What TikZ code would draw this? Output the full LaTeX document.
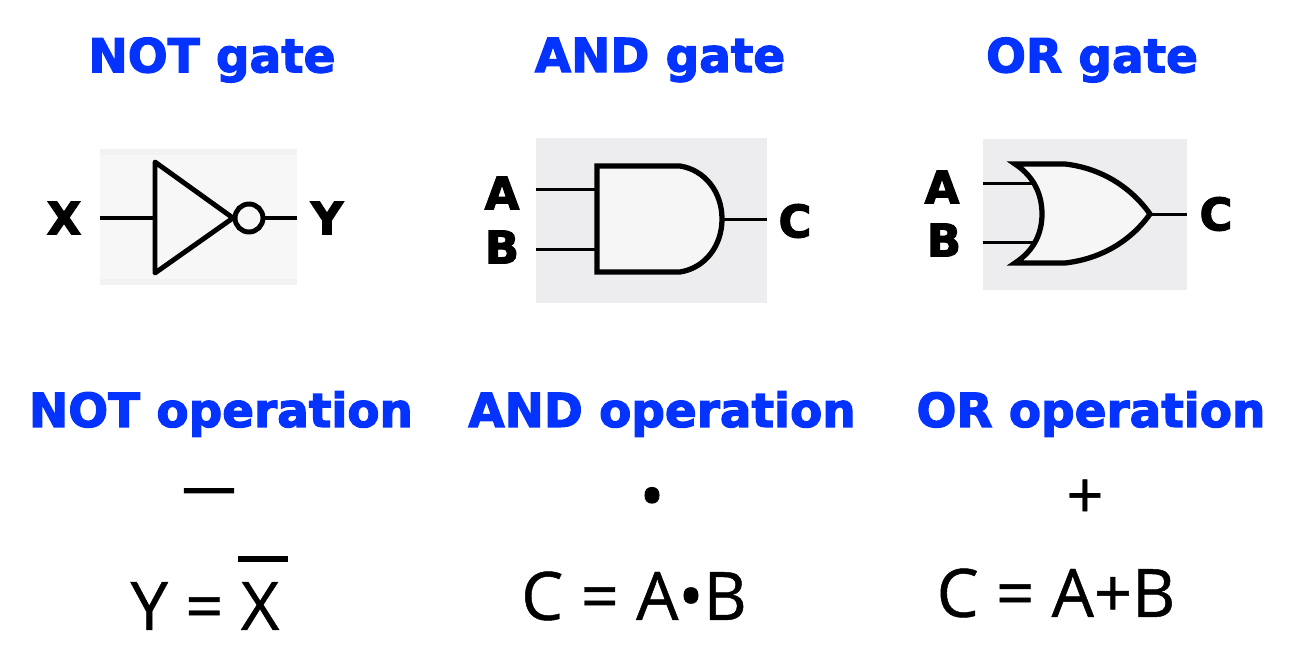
\documentclass[tikz,border=0pt]{standalone}
\usepackage{fontspec}
\setmainfont{Open Sans}
\newfontfamily\heavyfont[FakeBold=2.6]{DejaVu Sans Bold}
\newfontfamily\eqfont[FakeBold=0.7]{Open Sans}
\newfontfamily\symfont[FakeBold=2.2]{Open Sans}
\usetikzlibrary{positioning}
\definecolor{titleblue}{RGB}{4,51,255}
\definecolor{panelgray}{RGB}{237,237,239}
\definecolor{bodygray} {RGB}{246,246,247}
\definecolor{notgray}  {RGB}{247,247,247}
\definecolor{notband}  {RGB}{242,242,242}

\begin{document}
\begin{tikzpicture}[
  x=0.02cm,y=-0.02cm,
  title/.style={font=\heavyfont\fontsize{26.7}{29}\selectfont,text=titleblue,inner sep=0pt},
  pinlabel/.style={font=\heavyfont\fontsize{25.5}{28}\selectfont,inner sep=0pt},
  formula/.style={font=\eqfont\fontsize{38}{42}\selectfont,inner sep=0pt},
  panel/.style 2 args={rectangle,minimum width=#1,minimum height=#2,inner sep=0pt,fill=panelgray},
  gate/.style={draw=black,line width=3pt,fill=bodygray,line join=miter},
  wire/.style={draw=black,line width=1.7pt},
]
\useasboundingbox (0,0) rectangle (1304,650);

%% ── Titles ──────────────────────────────────────────────────────────────────
\node[title] (notgate) at (212,60) {NOT gate};
\node[title] (andgate) at (660,60) {AND gate};
\node[title] (orgate)  at (1092,60) {OR gate};

\node[title] (notop) at (221,414) {NOT operation};
\node[title] (andop) at (662,414) {AND operation};
\node[title] (orop)  at (1091,414) {OR operation};

%% ── NOT gate ────────────────────────────────────────────────────────────────
\node[panel={3.94cm}{2.72cm},fill=notband] (notbox) at (198.5,217) {};
\node[panel={3.94cm}{2.5cm},fill=notgray] (notinner) at (198.5,217) {};

\coordinate (xin) at (155,218);
\coordinate (ntip) at (233,218);
\node[draw=black,line width=2.8pt,circle,minimum size=0.56cm,inner sep=0pt] (bubble) at (249,218) {};

\draw[wire,line width=2.5pt] (notbox.west |- xin) -- (xin);
\draw[wire,line width=2.5pt] (bubble.east) -- (notbox.east |- bubble);
\draw[black,line width=2.8pt,line join=round] (155,162) -- (ntip) -- (155,273) -- cycle;

\node[pinlabel] (xlabel) at (64,218) {X};
\node[pinlabel] (ylabel) at (327,218) {Y};

%% ── AND gate ────────────────────────────────────────────────────────────────
\node[panel={4.62cm}{3.3cm}] (andbox) at (651.5,220.5) {};

\coordinate (aand) at (597,189);
\coordinate (band) at (597,249);
\coordinate (cand) at (722,219);

\draw[wire] (andbox.west |- aand) -- (aand);
\draw[wire] (andbox.west |- band) -- (band);
\draw[wire] (cand) -- (andbox.east |- cand);
\draw[gate] (597,166) -- (680,166)
  .. controls (705,170) and (722,192) .. (cand)
  .. controls (722,246) and (705,268) .. (680,272) -- (597,272) -- cycle;

\node[pinlabel] (alabel) at (502,193) {A};
\node[pinlabel] (blabel) at (502,247) {B};
\node[pinlabel] (clabel) at (795,221) {C};

%% ── OR gate ─────────────────────────────────────────────────────────────────
\node[panel={4.08cm}{3.02cm}] (orbox) at (1085,214.5) {};

\coordinate (aor) at (1036,183);
\coordinate (bor) at (1036,242);
\coordinate (cor) at (1150,214);

\draw[wire] (orbox.west |- aor) -- (aor);
\draw[wire] (orbox.west |- bor) -- (bor);
\draw[gate] (1015,164) -- (1065,164)
  .. controls (1100,168) and (1130,186) .. (cor)
  .. controls (1130,242) and (1100,259) .. (1065,263) -- (1015,263)
  .. controls (1035,250) and (1042,232) .. (1042,214)
  .. controls (1042,196) and (1035,177) .. (1015,164) -- cycle;
\draw[wire] (cor) -- (orbox.east |- cor);

\node[pinlabel] (aorlabel) at (942,187) {A};
\node[pinlabel] (borlabel) at (944,240) {B};
\node[pinlabel] (corlabel) at (1216,214) {C};

%% ── Operators and formulas ──────────────────────────────────────────────────
\node[font=\symfont\fontsize{30.5}{33}\selectfont,inner sep=0pt] (notsym) at (209,497) {—};
\node[font=\symfont\fontsize{36}{40}\selectfont,inner sep=0pt] (andsym) at (652,503) {•};
\node[font=\eqfont\fontsize{37}{40}\selectfont,inner sep=0pt] (orsym)  at (1085,499) {+};

\node[formula] (noteq) at (205,606) {Y = X};
\coordinate (barl) at (238,559);
\coordinate (barr) at (288,559);
\draw[black,line width=3.2pt] (barl) -- (barr);

\node[formula] (andeq) at (634,596) {C = A•B};
\node[formula] (oreq)  at (1056,593) {C = A+B};
\end{tikzpicture}
\end{document}
